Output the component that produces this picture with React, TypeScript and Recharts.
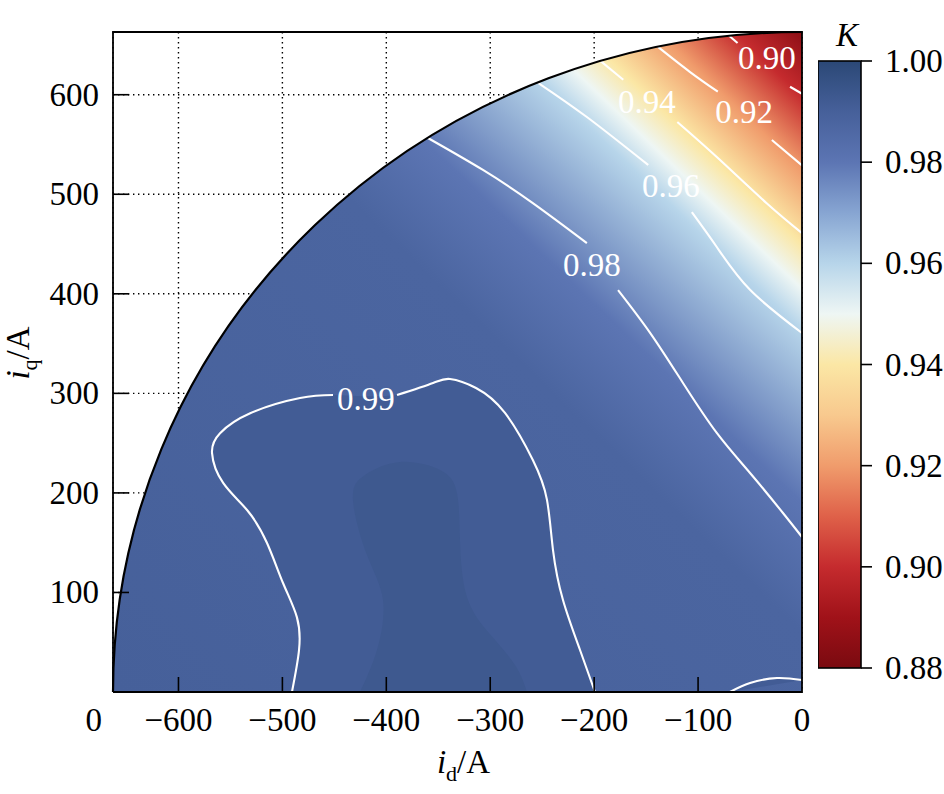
import React from 'react';
import { ScatterChart, Scatter, XAxis, YAxis, CartesianGrid, BarChart, Bar } from 'recharts';

const FONT = '"Liberation Serif", "Times New Roman", Times, serif';
const FS = 33;

// ---- axes ----
const ID_DOMAIN: [number, number] = [-663, 0];
const IQ_DOMAIN: [number, number] = [0, 663];
const ID_TICKS = [-600, -500, -400, -300, -200, -100, 0];
const IQ_TICKS = [0, 100, 200, 300, 400, 500, 600];

// ---- colour bar ----
const K_TICKS = [0.88, 0.9, 0.92, 0.94, 0.96, 0.98, 1.0];
const CMAP_K = [0.88, 0.89, 0.9, 0.91, 0.92, 0.93, 0.94, 0.95, 0.96, 0.97, 0.98, 0.99, 1.0];
const CMAP_HEX = [
  '#7a0a10', '#a01219', '#c52b2e', '#df6149', '#f09c6c', '#f8c98e', '#fbe7a5',
  '#eef6f4', '#b7d5ea', '#87a5d2', '#5c75b3', '#46609a', '#2b4876',
];

// ---- K field across the disc: level K at position s = id + iq (A) ----
const FIELD_K = [0.99, 0.9875, 0.98, 0.96, 0.95, 0.94, 0.92, 0.9, 0.885];
const FIELD_S = [-663, 60, 190, 363, 405, 450, 524, 598, 663];
const LOOP_K = 0.9915;
const BLOB_K = 0.993;

// quarter disc: left end, top end, centre
const DISC = [{ x: -663, y: 0 }, { x: 0, y: 663 }, { x: 0, y: 0 }];
const FRAME = [{ x: -663, y: 0 }, { x: -663, y: 663 }, { x: 0, y: 663 }, { x: 0, y: 0 }, { x: -663, y: 0 }];

// ---- contour lines (segments split at the inline labels) ----
const C090_A = [{ x: -71, y: 660 }, { x: -62, y: 652 }];
const C090_B = [{ x: -11.5, y: 608 }, { x: 0, y: 601 }];
const C092_A = [{ x: -138.6, y: 648 }, { x: -108, y: 623 }, { x: -81, y: 603 }];
const C092_B = [{ x: -29, y: 554.5 }, { x: 0, y: 529 }];
const C094_A = [{ x: -194, y: 634 }, { x: -172, y: 615 }];
const C094_B = [{ x: -120, y: 572.6 }, { x: -82, y: 537.4 }, { x: -34, y: 491 }, { x: 0, y: 461 }];
const C096_A = [{ x: -254, y: 612 }, { x: -207, y: 577.6 }, { x: -148, y: 529.4 }];
const C096_B = [{ x: -106, y: 482 }, { x: -82, y: 447 }, { x: -50, y: 404 }, { x: 0, y: 360.6 }];
const C098_A = [{ x: -360, y: 556.5 }, { x: -307, y: 524.4 }, { x: -259, y: 491.2 }, { x: -207, y: 451 }];
const C098_B = [
  { x: -177, y: 403.8 }, { x: -146, y: 360.6 }, { x: -114.5, y: 310.4 }, { x: -82, y: 260.2 },
  { x: -50, y: 220 }, { x: -18.3, y: 179.8 }, { x: 0, y: 155.7 },
];
const C099_A = [
  { x: -490.8, y: 0 }, { x: -484, y: 42 }, { x: -486, y: 75 }, { x: -499.4, y: 109.5 },
  { x: -514.8, y: 149.7 }, { x: -534, y: 182.8 }, { x: -557, y: 210 }, { x: -567.7, y: 240 },
  { x: -560, y: 260 }, { x: -531, y: 280 }, { x: -483, y: 295.3 }, { x: -451.3, y: 298.3 },
];
const C099_B = [
  { x: -389.7, y: 298.3 }, { x: -355, y: 310.4 }, { x: -338.7, y: 314.4 }, { x: -313.7, y: 305.4 },
  { x: -285.8, y: 280.3 }, { x: -259, y: 233 }, { x: -245.4, y: 193 }, { x: -239.6, y: 142.6 },
  { x: -230, y: 92.4 }, { x: -213.6, y: 42.2 }, { x: -199.2, y: 0 },
];
const C099_C = [{ x: -69.3, y: 0 }, { x: -50, y: 9 }, { x: -24, y: 14 }, { x: 0, y: 12 }];

// darker core region (highest K)
const BLOB = [
  { x: -425.3, y: 0 }, { x: -409, y: 42.2 }, { x: -403.2, y: 92.4 }, { x: -418.6, y: 137.6 },
  { x: -432.1, y: 192.9 }, { x: -420.5, y: 218 }, { x: -386.8, y: 231 }, { x: -348.3, y: 223 },
  { x: -332, y: 199.9 }, { x: -329.1, y: 152 }, { x: -322.4, y: 95.5 }, { x: -300.2, y: 58 },
  { x: -276.2, y: 27.1 }, { x: -264.6, y: 0 },
];

const CONTOUR_LABELS = [
  { x: -33.7, y: 637.9, label: '0.90' },
  { x: -55.8, y: 583.6, label: '0.92' },
  { x: -149.2, y: 593.7, label: '0.94' },
  { x: -126.1, y: 509.3, label: '0.96' },
  { x: -202.1, y: 429.9, label: '0.98' },
  { x: -419.6, y: 295.3, label: '0.99' },
];

const CBAR_DATA = [{ name: 'K', range: [K_TICKS[0], K_TICKS[K_TICKS.length - 1]] }];

// ---- helpers ----
function hexRgb(h: string) {
  const n = parseInt(h.slice(1), 16);
  return [(n >> 16) & 255, (n >> 8) & 255, n & 255];
}
function cmap(k: number): string {
  if (k <= CMAP_K[0]) return CMAP_HEX[0];
  for (let i = 0; i < CMAP_K.length - 1; i++) {
    if (k <= CMAP_K[i + 1] + 1e-9) {
      const t = (k - CMAP_K[i]) / (CMAP_K[i + 1] - CMAP_K[i]);
      const a = hexRgb(CMAP_HEX[i]);
      const b = hexRgb(CMAP_HEX[i + 1]);
      return `rgb(${a.map((v, j) => Math.round(v + (b[j] - v) * t)).join(',')})`;
    }
  }
  return CMAP_HEX[CMAP_HEX.length - 1];
}
const fmtNeg = (v: number) => (v < 0 ? '\u2212' + Math.abs(v) : String(v));

const hidden = () => <g />;

const discFill = (p: any) => {
  const pts = p.points;
  const [a, b, c] = pts;
  const rx = Math.abs(c.x - a.x);
  const ry = Math.abs(c.y - b.y);
  const span = FIELD_S[FIELD_S.length - 1] - FIELD_S[0];
  const stops = FIELD_K.map((k, i) => ({ off: (FIELD_S[i] - FIELD_S[0]) / span, c: cmap(k) }));
  return (
    <g>
      <defs>
        <linearGradient id="fieldGrad" x1="0" y1="1" x2="1" y2="0">
          {stops.map((s, i) => (
            <stop key={i} offset={s.off} stopColor={s.c} />
          ))}
        </linearGradient>
      </defs>
      <path
        d={`M${a.x},${a.y} A${rx},${ry} 0 0 1 ${b.x},${b.y} L${c.x},${c.y} Z`}
        fill="url(#fieldGrad)"
        stroke="none"
      />
    </g>
  );
};

const arcStroke = (p: any) => {
  const [a, b, c] = p.points;
  const rx = Math.abs(c.x - a.x);
  const ry = Math.abs(c.y - b.y);
  return <path d={`M${a.x},${a.y} A${rx},${ry} 0 0 1 ${b.x},${b.y}`} fill="none" stroke="#000" strokeWidth={2.2} />;
};

const contourLine = { stroke: '#ffffff', strokeWidth: 2.1, fill: 'none' };

const labelShape = (p: any) => (
  <text x={p.cx} y={p.cy} dy="0.36em" textAnchor="middle" fill="#ffffff" fontFamily={FONT} fontSize={FS}>
    {p.payload.label}
  </text>
);

const xTickMark = (p: any) => <line x1={p.cx} y1={p.cy} x2={p.cx} y2={p.cy - 15} stroke="#000" strokeWidth={1.6} />;
const yTickMark = (p: any) => <line x1={p.cx} y1={p.cy} x2={p.cx + 16} y2={p.cy} stroke="#000" strokeWidth={1.6} />;

const X_TICK_MARKS = ID_TICKS.filter((v) => v > ID_DOMAIN[0] && v < ID_DOMAIN[1]).map((v) => ({ x: v, y: IQ_DOMAIN[0] }));
const Y_TICK_MARKS = IQ_TICKS.filter((v) => v > IQ_DOMAIN[0] && v < IQ_DOMAIN[1]).map((v) => ({ x: ID_DOMAIN[0], y: v }));

const XTick = (p: any) => (
  <text x={p.x} y={p.y + 39} textAnchor="middle" fontFamily={FONT} fontSize={FS} fill="#000">
    {fmtNeg(p.payload.value)}
  </text>
);
const YTick = (p: any) => {
  const v = p.payload.value;
  if (v === 0) {
    return (
      <text x={p.x - 11} y={p.y + 39} textAnchor="end" fontFamily={FONT} fontSize={FS} fill="#000">
        0
      </text>
    );
  }
  return (
    <text x={p.x - 14} y={p.y + 11} textAnchor="end" fontFamily={FONT} fontSize={FS} fill="#000">
      {v}
    </text>
  );
};

const xLabel = (p: any) => {
  const vb = p.viewBox || { x: 113, y: 692, width: 689, height: 40 };
  return (
    <text x={vb.x + vb.width / 2 + 6} y={vb.y + 81} textAnchor="middle" fontFamily={FONT} fontSize={FS} fill="#000">
      <tspan fontStyle="italic">i</tspan>
      <tspan fontSize={22} dy={8}>d</tspan>
      <tspan dy={-8}>/A</tspan>
    </text>
  );
};
const yLabel = (p: any) => {
  const vb = p.viewBox || { x: 53, y: 32, width: 60, height: 660 };
  const cx = vb.x - 24;
  const cy = vb.y + vb.height / 2 - 9;
  return (
    <text x={cx} y={cy} transform={`rotate(-90 ${cx} ${cy})`} textAnchor="middle" fontFamily={FONT} fontSize={FS} fill="#000">
      <tspan fontStyle="italic">i</tspan>
      <tspan fontSize={22} dy={8}>q</tspan>
      <tspan dy={-8}>/A</tspan>
    </text>
  );
};

const cbarShape = (p: any) => {
  const lo = K_TICKS[0];
  const hi = K_TICKS[K_TICKS.length - 1];
  const stops = CMAP_K.map((k, i) => ({ off: (hi - k) / (hi - lo), c: CMAP_HEX[i] })).sort((a, b) => a.off - b.off);
  return (
    <g>
      <defs>
        <linearGradient id="cbarGrad" x1="0" y1="0" x2="0" y2="1">
          {stops.map((s, i) => (
            <stop key={i} offset={s.off} stopColor={s.c} />
          ))}
        </linearGradient>
      </defs>
      <rect x={p.x} y={p.y} width={p.width} height={p.height} fill="url(#cbarGrad)" stroke="#000" strokeWidth={1.6} />
    </g>
  );
};
const cbarTick = (p: any) => (
  <text x={p.x} y={p.y + 11} textAnchor="start" fontFamily={FONT} fontSize={FS} fill="#000">
    {Number(p.payload.value).toFixed(2)}
  </text>
);
const kLabel = (p: any) => {
  const vb = p.viewBox || { x: 861, y: 61, width: 83, height: 607 };
  return (
    <text x={vb.x - 14} y={vb.y - 15} textAnchor="middle" fontFamily={FONT} fontSize={FS} fontStyle="italic" fill="#000">
      K
    </text>
  );
};

const CONTOUR_SEGMENTS = [C090_A, C090_B, C092_A, C092_B, C094_A, C094_B, C096_A, C096_B, C098_A, C098_B, C099_A, C099_B, C099_C];

export default function App() {
  return (
    <div style={{ position: 'absolute', left: 0, top: 0, width: 944, height: 794, background: '#fff' }}>
      <div style={{ position: 'absolute', left: 0, top: 0 }}>
        <ScatterChart width={944} height={794} margin={{ top: 32, right: 142, bottom: 62, left: 53 }}>
          <CartesianGrid stroke="#000" strokeWidth={1.4} strokeDasharray="1.4 3.6" />
          <XAxis
            type="number"
            dataKey="x"
            domain={ID_DOMAIN}
            ticks={ID_TICKS}
            interval={0}
            height={40}
            axisLine={false}
            tickLine={false}
            tickSize={0}
            tickMargin={0}
            tick={XTick}
            label={xLabel}
          />
          <YAxis
            type="number"
            dataKey="y"
            domain={IQ_DOMAIN}
            ticks={IQ_TICKS}
            interval={0}
            width={60}
            axisLine={false}
            tickLine={false}
            tickSize={0}
            tickMargin={0}
            tick={YTick}
            label={yLabel}
          />
          <Scatter data={DISC} shape={hidden} line={discFill} isAnimationActive={false} />
          <Scatter
            data={[...C099_A, ...C099_B]}
            shape={hidden}
            line={{ fill: cmap(LOOP_K), stroke: 'none' }}
            lineJointType="natural"
            isAnimationActive={false}
          />
          <Scatter
            data={C099_C}
            shape={hidden}
            line={{ fill: cmap(LOOP_K), stroke: 'none' }}
            lineJointType="natural"
            isAnimationActive={false}
          />
          <Scatter
            data={BLOB}
            shape={hidden}
            line={{ fill: cmap(BLOB_K), stroke: 'none' }}
            lineJointType="natural"
            isAnimationActive={false}
          />
          {CONTOUR_SEGMENTS.map((seg, i) => (
            <Scatter key={'c' + i} data={seg} shape={hidden} line={contourLine} lineJointType="natural" isAnimationActive={false} />
          ))}
          <Scatter data={CONTOUR_LABELS} shape={labelShape} isAnimationActive={false} />
          <Scatter data={DISC} shape={hidden} line={arcStroke} isAnimationActive={false} />
          <Scatter
            data={FRAME}
            shape={hidden}
            line={{ stroke: '#000', strokeWidth: 1.8, fill: 'none' }}
            lineJointType="linear"
            isAnimationActive={false}
          />
          <Scatter data={X_TICK_MARKS} shape={xTickMark} isAnimationActive={false} />
          <Scatter data={Y_TICK_MARKS} shape={yTickMark} isAnimationActive={false} />
        </ScatterChart>
      </div>
      <div style={{ position: 'absolute', left: 818, top: 0 }}>
        <BarChart width={126} height={794} data={CBAR_DATA} margin={{ top: 61, right: 0, bottom: 126, left: 0 }} barCategoryGap={0} barGap={0}>
          <XAxis dataKey="name" hide />
          <YAxis
            orientation="right"
            type="number"
            domain={[K_TICKS[0], K_TICKS[K_TICKS.length - 1]]}
            ticks={K_TICKS}
            interval={0}
            width={83}
            axisLine={false}
            tickLine={{ stroke: '#000', strokeWidth: 1.6 }}
            tickSize={11}
            tickMargin={13}
            tick={cbarTick}
            label={kLabel}
          />
          <Bar dataKey="range" shape={cbarShape} isAnimationActive={false} />
        </BarChart>
      </div>
    </div>
  );
}
